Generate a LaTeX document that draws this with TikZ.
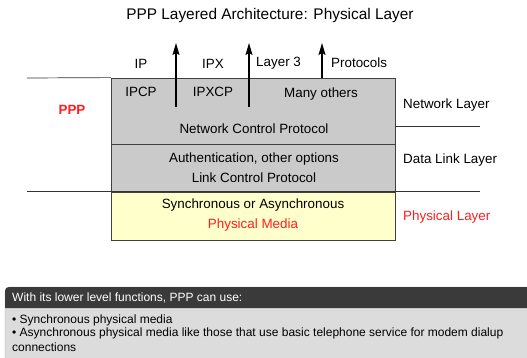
\documentclass[tikz,border=0pt]{standalone}
\usepackage{fontspec}
\setmainfont{Liberation Sans}
\usetikzlibrary{arrows.meta,positioning}
\definecolor{boxgray}{HTML}{CACACA}
\definecolor{mediayellow}{HTML}{FFFFCC}
\definecolor{pppred}{HTML}{FF1E1E}
\definecolor{notedark}{HTML}{3A3A3A}
\definecolor{notelight}{HTML}{DCDCDC}
\tikzset{
layerbox/.style={draw=black!75,fill=boxgray,minimum width=284pt,inner sep=0pt,line width=.8pt},
proto/.style={font=\fontsize{13.4}{16}\selectfont,inner sep=1pt},
layername/.style={font=\fontsize{13.4}{16}\selectfont,inner sep=1pt,anchor=west},
notetext/.style={font=\fontsize{12}{14}\selectfont,inner sep=1pt,anchor=west},
upflow/.style={-{Stealth[length=12pt,width=7pt,inset=2pt]},line width=1.4pt},
sepline/.style={line width=.7pt,black!80}
}
\begin{document}
\begin{tikzpicture}[x=1pt,y=-1pt]
\useasboundingbox (0,0) rectangle (527,358);
\node[font=\fontsize{15.4}{18}\selectfont] (title) at (270,16) {PPP Layered Architecture: Physical Layer};
% protocol stack
\node[layerbox,minimum height=66pt] (netbox) at (253,111) {};
\node[layerbox,minimum height=47pt,below=0pt of netbox] (linkbox) {};
\node[layerbox,fill=mediayellow,minimum height=48pt,below=0pt of linkbox] (physbox) {};
\node[proto] (ipcp) at (141,92) {IPCP};
\node[proto] (ipxcp) at (213,92) {IPXCP};
\node[proto] (others) at (321,94) {Many others};
\node[proto] (ncp) at (254,129) {Network Control Protocol};
\node[proto] (auth) at (254,159) {Authentication, other options};
\node[proto,below=5.5pt of auth] (lcp) {Link Control Protocol};
\node[proto] (sync) at (253,205) {Synchronous or Asynchronous};
\node[proto,text=pppred,below=5.5pt of sync] (media) {Physical Media};
% layer 3 protocols
\node[proto] (ip) at (141,64) {IP};
\node[proto] (ipx) at (213,64) {IPX};
\node[layername] (l3) at (255,63) {Layer 3};
\node[layername] (protos) at (330,63) {Protocols};
\coordinate (ipbot) at (176,107);
\coordinate (iptop) at (176,43);
\coordinate (ipxbot) at (249,107);
\coordinate (ipxtop) at (249,43);
\coordinate (othbot) at (322,78);
\coordinate (othtop) at (322,43);
\draw[upflow] (ipbot) -- (iptop);
\draw[upflow] (ipxbot) -- (ipxtop);
\draw[upflow] (othbot) -- (othtop);
% layer names
\node[font=\fontsize{13.4}{16}\selectfont\bfseries,text=pppred] (ppp) at (72,110) {PPP};
\node[layername] (netlayer) at (402,105) {Network Layer};
\node[layername] (dllayer) at (402,160) {Data Link Layer};
\node[layername,text=pppred] (phylayer) at (402,217) {Physical Layer};
\coordinate (topleft) at (27,78);
\coordinate (netright) at (480,126);
\coordinate (phyleft) at (27,191);
\coordinate (phyright) at (480,191);
\draw[sepline] (topleft) -- (netbox.north west);
\draw[sepline] (netbox.east |- netright) -- (netright);
\draw[sepline] (phyleft) -- (phyright);
% note panel
\fill[notelight,draw=black!35,rounded corners=4pt] (5,287) rectangle (545,370);
\fill[notedark,rounded corners=4pt] (5,308) -- (5,287) -- (545,287) -- (545,308) [sharp corners] -- cycle;
\node[notetext,text=white] (notehead) at (11,298) {With its lower level functions, PPP can use:};
\node[notetext] (note1) at (11,320) {• Synchronous physical media};
\node[notetext] (note2) at (11,333.5) {• Asynchronous physical media like those that use basic telephone service for modem dialup};
\node[notetext] (note3) at (11,347) {connections};
\end{tikzpicture}
\end{document}
